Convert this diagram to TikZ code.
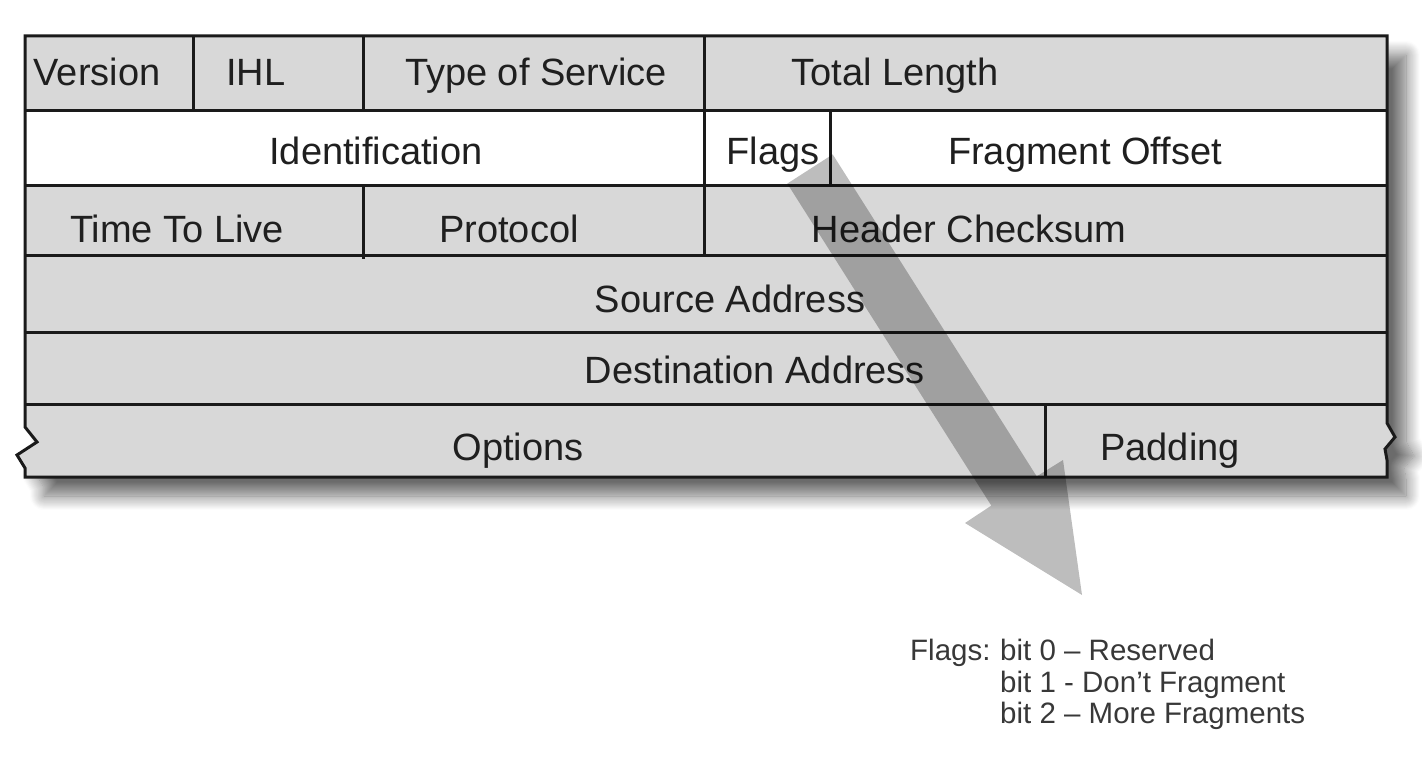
\documentclass[tikz,border=0pt]{standalone}
\usepackage{fontspec}
\setmainfont{Liberation Sans}
\usetikzlibrary{shadows.blur}
\definecolor{cellgray}{HTML}{D8D8D8}
\definecolor{rulecol}{HTML}{1A1A1A}
\begin{document}
\begin{tikzpicture}[x=1pt,y=-1pt,
  field/.style={anchor=base, inner sep=0pt, font=\fontsize{38}{40}\selectfont, text=black!88},
  note/.style={anchor=base west, inner sep=0pt, font=\fontsize{29.5}{31}\selectfont, text=black!78},
  rulestroke/.style={draw=rulecol, line width=3pt},
  pointer/.style={fill=black, fill opacity=0.26},
]
\useasboundingbox (0,0) rectangle (1422,760);

% header outline, with torn edges on the options row
\path[fill=cellgray, blur shadow={shadow xshift=19pt, shadow yshift=-19pt, shadow blur radius=14pt, shadow blur steps=14, shadow opacity=58}]
  (25,36) -- (1387,36) -- (1387,423) -- (1395,437) -- (1385,449) -- (1387,460) -- (1387,477)
  -- (25,477) -- (25,468) -- (17,455) -- (37,442) -- (25,427) -- cycle;
\fill[white] (25,110) rectangle (1387,185);
\draw[rulestroke, line join=miter]
  (25,36) -- (1387,36) -- (1387,423) -- (1395,437) -- (1385,449) -- (1387,460) -- (1387,477)
  -- (25,477) -- (25,468) -- (17,455) -- (37,442) -- (25,427) -- cycle;

% row separators
\foreach \yy in {110,185,255,332,404}
  \draw[rulestroke] (25,\yy) -- (1387,\yy);

% field separators
\draw[rulestroke] (193,36) -- (193,110);
\draw[rulestroke] (363,36) -- (363,110);
\draw[rulestroke] (704,36) -- (704,110);
\draw[rulestroke] (704,110) -- (704,185);
\draw[rulestroke] (830,110) -- (830,185);
\draw[rulestroke] (363,185) -- (363,259);
\draw[rulestroke] (704,185) -- (704,257);
\draw[rulestroke] (1045,404) -- (1045,477);

% field names
\node[field] (ver)   at (97,85)   {Version};
\node[field] (ihl)   at (256,85)  {IHL};
\node[field] (tos)   at (536,85)  {Type of Service};
\node[field] (tlen)  at (895,85)  {Total Length};
\node[field] (ident) at (376,164) {Identification};
\node[field] (flags) at (773,164) {Flags};
\node[field] (frag)  at (1085,164){Fragment Offset};
\node[field] (ttl)   at (177,242) {Time To Live};
\node[field] (proto) at (509,242) {Protocol};
\node[field] (csum)  at (969,242) {Header Checksum};
\node[field] (src)   at (730,312) {Source Address};
\node[field] (dst)   at (755,383) {Destination Address};
\node[field] (opts)  at (518,460) {Options};
\node[field] (pad)   at (1170,460){Padding};

% translucent pointer from the flags field to its legend
\fill[pointer] (832.7,154.4) -- (1036.7,476.4) -- (1063,460) -- (1082,595)
  -- (965,523) -- (991.3,505.6) -- (787.3,183.6) -- cycle;

% legend
\node[note] (lgd)  at (910,660)  {Flags:};
\node[note] (bit0) at (1000,660) {bit 0 – Reserved};
\node[note] (bit1) at (1000,692) {bit 1 - Don’t Fragment};
\node[note] (bit2) at (1000,723) {bit 2 – More Fragments};
\end{tikzpicture}
\end{document}
